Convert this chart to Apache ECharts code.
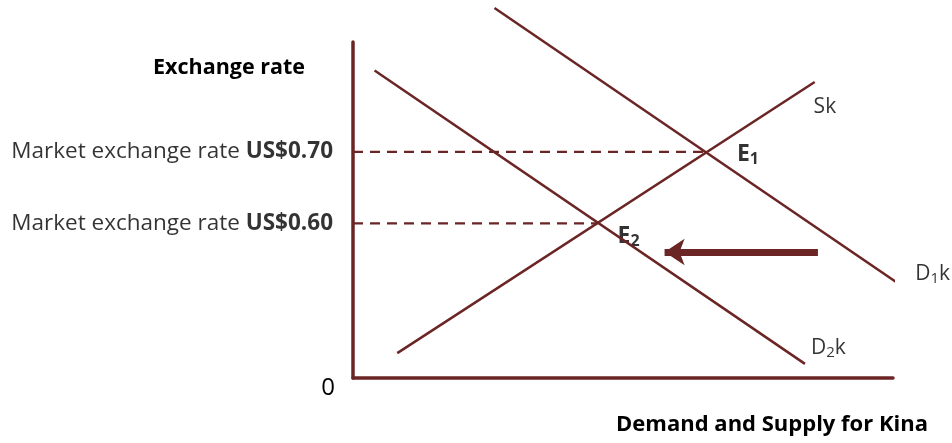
<!DOCTYPE html>
<html>
<head>
<meta charset="utf-8">
<script src="https://cdn.jsdelivr.net/npm/echarts@6/dist/echarts.min.js"></script>
<style>
  html, body { margin: 0; padding: 0; background: #fff; }
  #chart { width: 952px; height: 443px; }
</style>
</head>
<body>
<div id="chart"></div>
<script>
  // diagram units: quantity 0..100 across, exchange rate 0..100 up
  var supplyK = [[8.2, 7.4], [85.5, 88.1]]
  var demand1K = [[26.2, 110.1], [101.1, 28.0]]
  var demand2K = [[4.0, 91.5], [83.7, 4.2]]
  var equilibrium1 = [65.3, 67.3]
  var equilibrium2 = [45.2, 46.0]
  var shiftArrow = [[86.1, 37.5], [57.7, 37.5]]
  var rateLabels = ['US$0.70', 'US$0.60']
  // [x, y, text] for the curve / point names
  var curveNames = [
    [85.3, 80.6, '{n|Sk}'],
    [71.1, 66.4, '{e|E}{es|1}'],
    [49.0, 42.0, '{e|E}{es|2}'],
    [104.1, 31.0, '{n|D}{ns|1}{n|k}'],
    [84.8, 8.9, '{n|D}{ns|2}{n|k}']
  ]

  var lineColor = '#6b2525'
  var font = '"Open Sans"'

  var chart = echarts.init(document.getElementById('chart'))

  var curveStyle = { color: lineColor, width: 2.5 }
  function curve (name, data) {
    return {
      name: name,
      type: 'line',
      data: data,
      symbol: 'none',
      clip: false,
      silent: true,
      lineStyle: curveStyle
    }
  }
  function dashed (point) {
    return {
      type: 'line',
      data: [[0, point[1]], point],
      symbol: 'none',
      clip: false,
      silent: true,
      lineStyle: { color: lineColor, width: 2.2, type: [10, 7] }
    }
  }

  var option = {
    animation: false,
    grid: { left: 353, top: 42, width: 540, height: 336 },
    xAxis: {
      type: 'value',
      min: 0,
      max: 100,
      name: 'Demand and Supply for Kina',
      nameLocation: 'end',
      nameGap: 35,
      nameTextStyle: {
        fontFamily: font, fontWeight: 'bold', fontSize: 22, color: '#000',
        align: 'right', verticalAlign: 'top', padding: [36, 0, 0, 0]
      },
      axisLine: { lineStyle: { color: lineColor, width: 3.5 } },
      axisTick: { show: false },
      axisLabel: { show: false },
      splitLine: { show: false }
    },
    yAxis: {
      type: 'value',
      min: 0,
      max: 100,
      interval: 10,
      name: 'Exchange rate',
      nameLocation: 'end',
      nameGap: -26,
      nameTextStyle: {
        fontFamily: font, fontWeight: 'bold', fontSize: 21.5, color: '#000',
        align: 'right', verticalAlign: 'middle', padding: [0, 48, 0, 0]
      },
      axisLine: { show: true, lineStyle: { color: lineColor, width: 3.5 } },
      axisTick: { show: false },
      axisLabel: {
        formatter: function (v) { return v === 0 ? '0' : '' },
        margin: 18,
        verticalAlign: 'top',
        lineHeight: 20,
        fontFamily: font,
        fontSize: 24,
        color: '#000'
      },
      splitLine: { show: false }
    },
    series: [
      curve('Sk', supplyK),
      curve('D1k', demand1K),
      curve('D2k', demand2K),
      dashed(equilibrium1),
      dashed(equilibrium2),
      {
        type: 'scatter',
        symbolSize: 0,
        silent: true,
        data: [
          [0, equilibrium1[1], rateLabels[0]],
          [0, equilibrium2[1], rateLabels[1]]
        ],
        label: {
          show: true,
          position: 'left',
          distance: 20,
          formatter: function (p) { return '{t|Market exchange rate }{b|' + p.value[2] + '}' },
          rich: {
            t: { fontFamily: font, fontSize: 22.5, color: '#000' },
            b: { fontFamily: font, fontSize: 22.5, fontWeight: 'bold', color: '#000' }
          }
        }
      },
      {
        type: 'scatter',
        symbolSize: 0,
        silent: true,
        clip: false,
        data: curveNames,
        label: {
          show: true,
          position: 'right',
          distance: 0,
          formatter: function (p) { return p.value[2] },
          rich: {
            n: { fontFamily: font, fontSize: 21, color: '#000' },
            ns: { fontFamily: font, fontSize: 15, color: '#000', verticalAlign: 'bottom', padding: [9, 0, 0, 0] },
            e: { fontFamily: font, fontSize: 23, fontWeight: 'bold', color: '#000' },
            es: { fontFamily: font, fontSize: 16, fontWeight: 'bold', color: '#000', verticalAlign: 'bottom', padding: [10, 0, 0, 0] }
          }
        }
      },
      {
        type: 'line',
        data: [],
        silent: true,
        markLine: {
          silent: true,
          symbol: ['none', 'arrow'],
          symbolSize: [20, 20],
          label: { show: false },
          lineStyle: { color: lineColor, width: 7, type: 'solid' },
          data: [[{ coord: shiftArrow[0] }, { coord: shiftArrow[1] }]]
        }
      }
    ]
  }
  chart.setOption(option)
</script>
</body>
</html>
